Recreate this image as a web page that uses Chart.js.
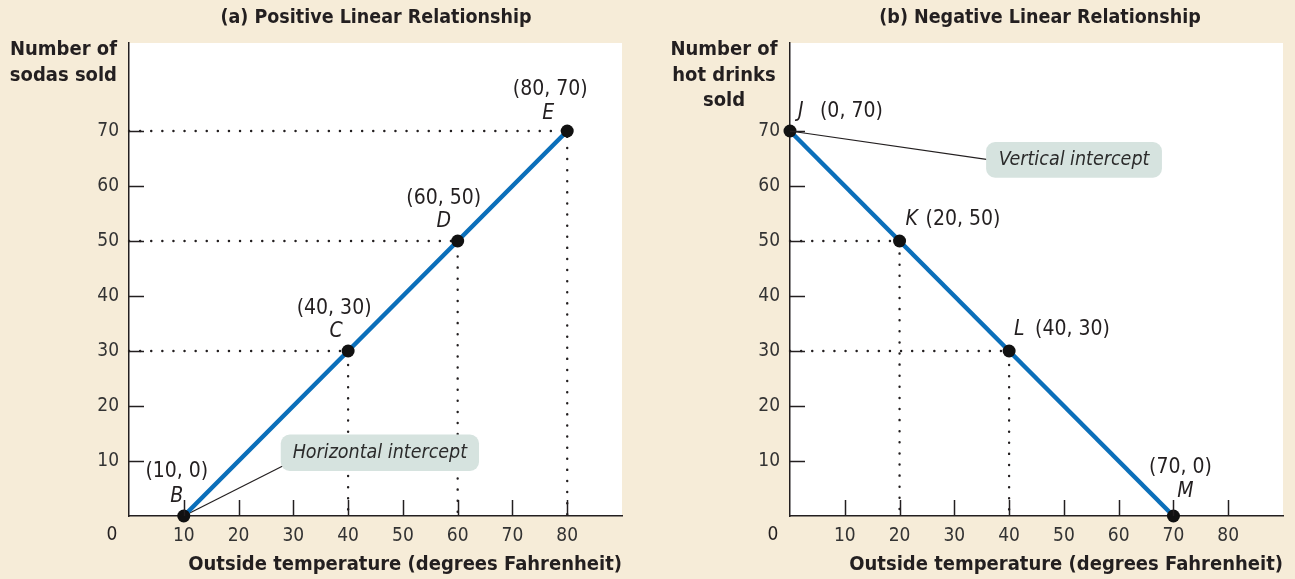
<!DOCTYPE html>
<html>
<head>
<meta charset="utf-8">
<script src="https://cdn.jsdelivr.net/npm/chart.js@4"></script>
<style>
html, body { margin: 0; padding: 0; background: #f6ecd8; }
#wrap { position: relative; width: 1295px; height: 579px; }
.panel { position: absolute; top: 0; height: 579px; }
</style>
</head>
<body>
<div id="wrap">
  <div class="panel" style="left:0;width:647px"><canvas id="chartA"></canvas></div>
  <div class="panel" style="left:647px;width:648px"><canvas id="chartB"></canvas></div>
</div>
<script>
// ---- data ----
const xTicks = [10, 20, 30, 40, 50, 60, 70, 80];
const yTicks = [10, 20, 30, 40, 50, 60, 70];

// (a) sodas
const sodaTemps = [10, 40, 60, 80];
const sodaSold = [0, 30, 50, 70];
const sodaNames = ['B', 'C', 'D', 'E'];
const sodaGuides = [1, 2, 3]; // points with dotted guides

// (b) hot drinks
const hotTemps = [0, 20, 40, 70];
const hotSold = [70, 50, 30, 0];
const hotNames = ['J', 'K', 'L', 'M'];
const hotGuides = [1, 2];

const FONT = '"DejaVu Sans Condensed", "Liberation Sans Narrow", sans-serif';
const INK = '#231f20';
const BLUE = '#0b6fba';

Chart.defaults.font.family = FONT;
Chart.defaults.color = INK;

function guideSets(xs, ys, idx) {
    return idx.map(i => ({
        data: [{x: 0, y: ys[i]}, {x: xs[i], y: ys[i]}, {x: xs[i], y: 0}],
        showLine: true,
        borderColor: INK,
        borderWidth: 2.4,
        borderDash: [0.1, 11],
        borderCapStyle: 'round',
        pointRadius: 0,
        clip: false,
        order: 2
    }));
}

function makePanel(cfg) {
    return {
        id: 'panel' + cfg.key,
        beforeDraw(chart) {
            const a = chart.chartArea, ctx = chart.ctx;
            ctx.save();
            ctx.fillStyle = '#ffffff';
            ctx.fillRect(a.left, a.top, a.right - a.left, a.bottom - a.top);
            ctx.restore();
        },
        beforeDatasetsDraw(chart) {
            // leader line goes under the points
            const ctx = chart.ctx, sx = chart.scales.x, sy = chart.scales.y;
            const c = cfg.callout;
            ctx.save();
            ctx.strokeStyle = INK;
            ctx.lineWidth = 1.2;
            ctx.beginPath();
            ctx.moveTo(sx.getPixelForValue(c.from[0]), sy.getPixelForValue(c.from[1]));
            ctx.lineTo(sx.getPixelForValue(c.box[0]) + 2, sy.getPixelForValue(c.to));
            ctx.stroke();
            ctx.restore();
        },
        afterDatasetsDraw(chart) {
            // callout box covers the dotted guides
            const ctx = chart.ctx, sx = chart.scales.x, sy = chart.scales.y;
            const c = cfg.callout;
            const l = sx.getPixelForValue(c.box[0]), r = sx.getPixelForValue(c.box[1]);
            const t = sy.getPixelForValue(c.box[2]), b = sy.getPixelForValue(c.box[3]);
            ctx.save();
            ctx.fillStyle = '#d6e3df';
            ctx.beginPath();
            ctx.roundRect(l, t, r - l, b - t, 9);
            ctx.fill();
            ctx.fillStyle = '#2b2b2b';
            ctx.font = 'italic 19.5px ' + FONT;
            ctx.textAlign = 'center';
            ctx.textBaseline = 'middle';
            ctx.fillText(c.text, (l + r) / 2, (t + b) / 2);
            ctx.restore();
        },
        afterDraw(chart) {
            const ctx = chart.ctx, a = chart.chartArea, sx = chart.scales.x, sy = chart.scales.y;
            ctx.save();
            ctx.strokeStyle = INK;
            ctx.lineWidth = 1.5;
            // inward tick marks
            xTicks.forEach(v => {
                const px = Math.round(sx.getPixelForValue(v)) + 0.5;
                ctx.beginPath(); ctx.moveTo(px, a.bottom); ctx.lineTo(px, a.bottom - 16); ctx.stroke();
            });
            yTicks.forEach(v => {
                const py = Math.round(sy.getPixelForValue(v)) + 0.5;
                ctx.beginPath(); ctx.moveTo(a.left, py); ctx.lineTo(a.left + 15, py); ctx.stroke();
            });
            ctx.fillStyle = INK;
            // origin label
            ctx.font = '19px ' + FONT;
            ctx.textAlign = 'center';
            ctx.textBaseline = 'middle';
            ctx.fillText('0', a.left - 17, a.bottom + 19);
            // panel title
            ctx.font = 'bold 19.5px ' + FONT;
            ctx.fillText(cfg.title, cfg.titleX, 18);
            // x axis title
            ctx.font = 'bold 20px ' + FONT;
            ctx.textAlign = 'right';
            ctx.fillText('Outside temperature (degrees Fahrenheit)', a.right, 565);
            // y axis title
            ctx.textAlign = cfg.yTitleAlign;
            cfg.yTitle.forEach((s, i) => ctx.fillText(s, cfg.yTitleX, 50 + i * 25.5));
            // point labels
            cfg.names.forEach((n, i) => {
                const px = sx.getPixelForValue(cfg.xs[i]), py = sy.getPixelForValue(cfg.ys[i]);
                const o = cfg.offsets[i];
                ctx.textAlign = o.align || 'center';
                ctx.font = '21px ' + FONT;
                ctx.fillText('(' + cfg.xs[i] + ', ' + cfg.ys[i] + ')', px + o.coord[0], py + o.coord[1]);
                ctx.font = 'italic 21px ' + FONT;
                ctx.fillText(n, px + o.letter[0], py + o.letter[1]);
            });
            ctx.restore();
        }
    };
}

function makeChart(id, xs, ys, guides, padRight, plugin) {
    return new Chart(document.getElementById(id), {
        type: 'scatter',
        data: {
            datasets: [{
                data: xs.map((x, i) => ({x: x, y: ys[i]})),
                showLine: true,
                borderColor: BLUE,
                borderWidth: 4.5,
                pointRadius: 6.5,
                pointBackgroundColor: '#111',
                pointBorderColor: '#111',
                pointBorderWidth: 0,
                clip: false,
                order: 0
            }].concat(guideSets(xs, ys, guides))
        },
        options: {
            responsive: true,
            maintainAspectRatio: false,
            animation: false,
            layout: { padding: { top: 43, right: padRight, left: 0, bottom: 0 } },
            plugins: { legend: { display: false }, tooltip: { enabled: false } },
            scales: {
                x: {
                    type: 'linear', min: 0, max: 90,
                    grid: { display: false, drawTicks: false },
                    border: { display: true, color: INK, width: 1.5 },
                    ticks: {
                        stepSize: 10, padding: 9, color: '#333',
                        font: { size: 19 },
                        callback: v => xTicks.includes(v) ? String(v) : ''
                    },
                    afterFit: s => { s.height = 63; }
                },
                y: {
                    type: 'linear', min: 0, max: 86,
                    grid: { display: false, drawTicks: false },
                    border: { display: true, color: INK, width: 1.5 },
                    ticks: {
                        stepSize: 10, padding: 10, color: '#333',
                        font: { size: 19 },
                        callback: v => yTicks.includes(v) ? String(v) : ''
                    },
                    afterFit: s => { s.width = cfgWidth[id]; }
                }
            }
        },
        plugins: [plugin]
    });
}

const cfgWidth = { chartA: 129, chartB: 143 };

makeChart('chartA', sodaTemps, sodaSold, sodaGuides, 25, makePanel({
    key: 'A',
    title: '(a) Positive Linear Relationship',
    titleX: 376,
    yTitle: ['Number of', 'sodas sold'],
    yTitleAlign: 'right',
    yTitleX: 117,
    xs: sodaTemps, ys: sodaSold, names: sodaNames,
    offsets: [
        {coord: [-7, -44], letter: [-7, -19]},
        {coord: [-14, -42], letter: [-12, -19]},
        {coord: [-14, -42], letter: [-14, -19]},
        {coord: [-17, -41], letter: [-19, -17]}
    ],
    callout: { text: 'Horizontal intercept', box: [27.7, 63.9, 14.8, 8.2], from: [10, 0], to: 9.1 }
}));

makeChart('chartB', hotTemps, hotSold, hotGuides, 12, makePanel({
    key: 'B',
    title: '(b) Negative Linear Relationship',
    titleX: 393,
    yTitle: ['Number of', 'hot drinks', 'sold'],
    yTitleAlign: 'center',
    yTitleX: 77,
    xs: hotTemps, ys: hotSold, names: hotNames,
    offsets: [
        {align: 'left', coord: [30, -19], letter: [8, -19]},
        {align: 'left', coord: [26, -21], letter: [6, -21]},
        {align: 'left', coord: [26, -21], letter: [5, -21]},
        {coord: [7, -48], letter: [12, -24]}
    ],
    callout: { text: 'Vertical intercept', box: [35.8, 67.9, 68, 61.5], from: [0, 70], to: 64.8 }
}));
</script>
</body>
</html>
